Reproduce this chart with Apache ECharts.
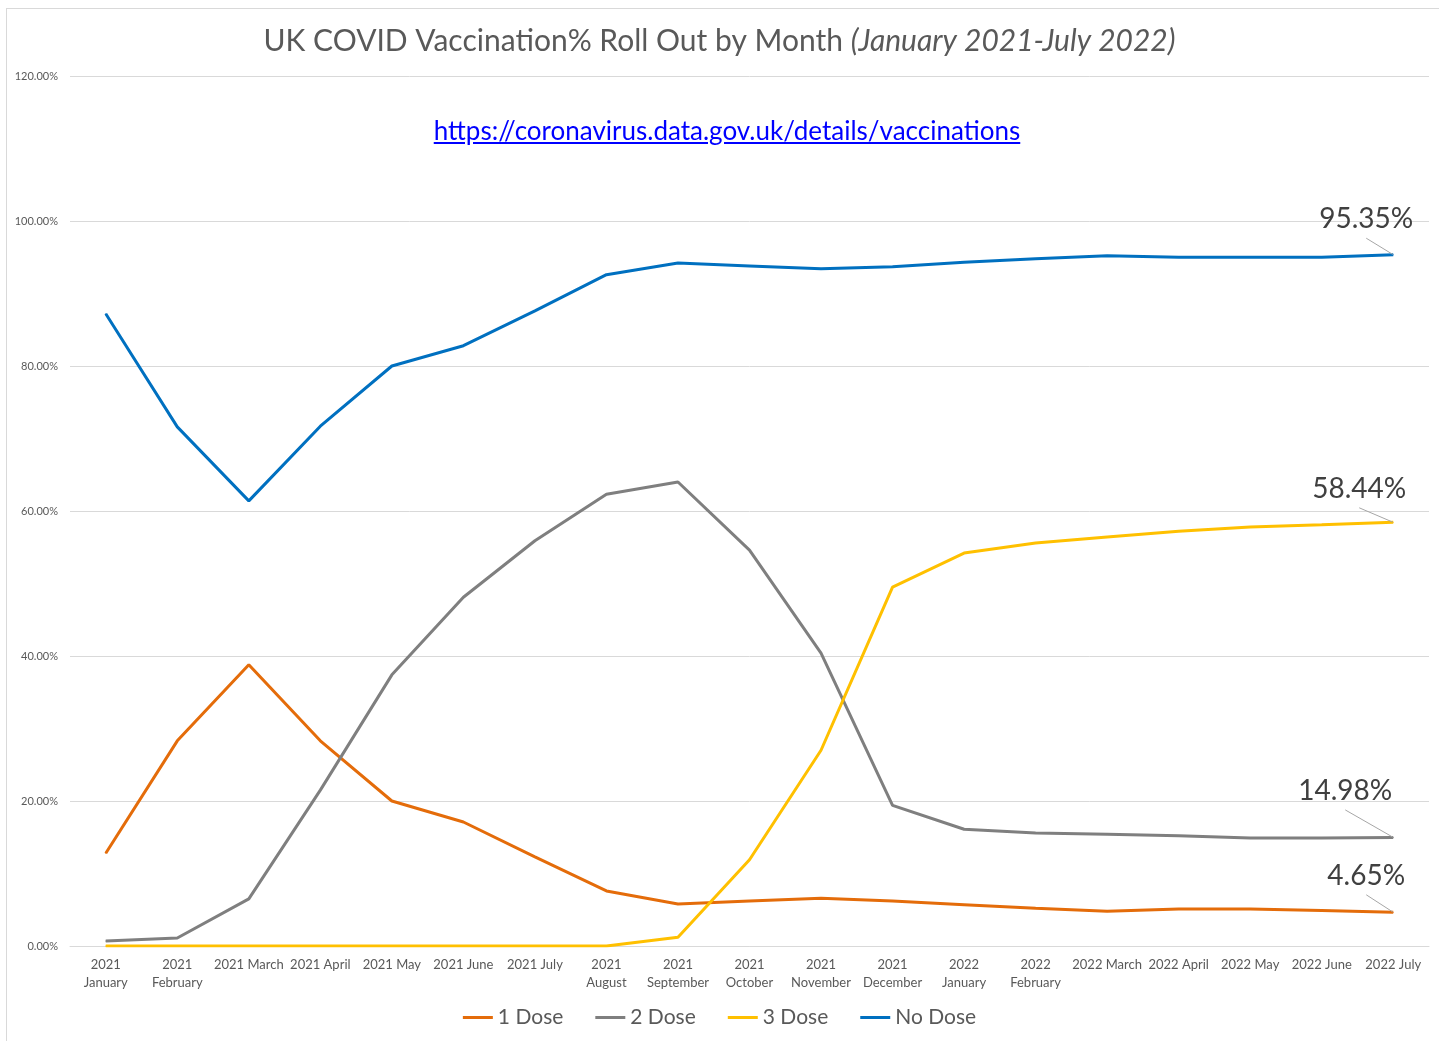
<!DOCTYPE html>
<html>
<head>
<meta charset="utf-8">
<script src="https://cdn.jsdelivr.net/npm/echarts@6/dist/echarts.min.js"></script>
<style>
  html, body { margin: 0; padding: 0; background: #fff; }
  #frame {
    position: absolute; left: 6px; top: 8px; width: 1500px; height: 1100px;
    border-left: 1px solid #d9d9d9; border-top: 1px solid #d9d9d9;
  }
  #chart { position: absolute; left: 0; top: 0; width: 1439px; height: 1041px; }
  #link {
    position: absolute; left: 0; width: 1454px; top: 114px; text-align: center;
    font-family: Lato, sans-serif; font-size: 26px; color: #0000ff; text-decoration: underline;
  }
</style>
</head>
<body>
<div id="frame"></div>
<div id="chart"></div>
<div id="link">https://coronavirus.data.gov.uk/details/vaccinations</div>
<script>
// months on the x axis
var months = ['2021 January', '2021 February', '2021 March', '2021 April', '2021 May', '2021 June',
  '2021 July', '2021 August', '2021 September', '2021 October', '2021 November', '2021 December',
  '2022 January', '2022 February', '2022 March', '2022 April', '2022 May', '2022 June', '2022 July'];

// percentages
var oneDose = [12.8, 28.3, 38.8, 28.3, 20.0, 17.1, 12.3, 7.6, 5.8, 6.2, 6.6, 6.2, 5.7, 5.2, 4.8, 5.1, 5.1, 4.9, 4.65];
var twoDose = [0.7, 1.1, 6.5, 21.5, 37.4, 48.1, 55.9, 62.3, 64.0, 54.6, 40.4, 19.4, 16.1, 15.6, 15.4, 15.2, 14.9, 14.9, 14.98];
var threeDose = [0, 0, 0, 0, 0, 0, 0, 0, 1.2, 11.9, 27.0, 49.5, 54.2, 55.6, 56.4, 57.2, 57.8, 58.1, 58.44];
var noDose = [87.2, 71.6, 61.4, 71.7, 80.0, 82.8, 87.6, 92.6, 94.2, 93.8, 93.4, 93.7, 94.3, 94.8, 95.2, 95.0, 95.0, 95.0, 95.35];

var yTicks = [0, 20, 40, 60, 80, 100, 120];

var font = 'Lato, sans-serif';

// put a label on the last point only
function withEndLabel(arr) {
  return arr.map(function (v, i) {
    if (i !== arr.length - 1) return v;
    return {
      value: v,
      label: {
        show: true, position: 'top', distance: 0,
        // invisible box with wide sides so the leader line leaves from the bottom edge
        backgroundColor: 'rgba(255,255,255,0)',
        padding: [0, 60, 5, 60],
        formatter: v.toFixed(2) + '%',
        fontFamily: font, fontSize: 28, color: '#404040'
      }
    };
  });
}

function line(name, data, color, dx, dy) {
  var last = data.length - 1;
  return {
    name: name, type: 'line', data: withEndLabel(data), symbol: 'circle', symbolSize: 1, showSymbol: true, smooth: false,
    lineStyle: { color: color, width: 3 }, itemStyle: { color: color },
    labelLine: { show: true, lineStyle: { color: '#a6a6a6', width: 1 } },
    // pull the end label up and left, leaving a leader line
    labelLayout: function (p) {
      if (p.dataIndex === last) return { dx: dx, dy: dy };
      return {};
    }
  };
}

var chart = echarts.init(document.getElementById('chart'));
chart.setOption({
  animation: false,
  backgroundColor: 'transparent',
  title: {
    left: 'center', top: 21,
    text: '{n|UK COVID Vaccination% Roll Out by Month }{i|(January 2021-July 2022)}',
    textStyle: {
      rich: {
        n: { fontFamily: font, fontSize: 30, color: '#595959', fontWeight: 'normal' },
        i: { fontFamily: font, fontSize: 30, color: '#595959', fontStyle: 'italic', fontWeight: 'normal' }
      }
    }
  },
  grid: { left: 70, right: 10, top: 76, bottom: 95 },
  legend: {
    bottom: 8, left: 'center', icon: 'rect', itemWidth: 30, itemHeight: 3, itemGap: 32,
    textStyle: { fontFamily: font, fontSize: 21, color: '#595959' },
    data: ['1 Dose', '2 Dose', '3 Dose', 'No Dose']
  },
  xAxis: {
    type: 'category', data: months, boundaryGap: true,
    axisLine: { lineStyle: { color: '#d9d9d9' } },
    axisTick: { show: false },
    axisLabel: {
      interval: 0, margin: 10, fontFamily: font, fontSize: 13, color: '#595959', lineHeight: 18,
      formatter: function (s) { return s.length > 10 ? s.replace(' ', '\n') : s; }
    }
  },
  yAxis: {
    type: 'value', min: yTicks[0], max: yTicks[yTicks.length - 1], interval: 20,
    axisLine: { show: false }, axisTick: { show: false },
    splitLine: { lineStyle: { color: '#d9d9d9', width: 1 } },
    axisLabel: {
      margin: 12, fontFamily: font, fontSize: 11, color: '#595959',
      formatter: function (v) { return v.toFixed(2) + '%'; }
    }
  },
  series: [
    line('1 Dose', oneDose, '#e46c0a', -27, -17),
    line('2 Dose', twoDose, '#7f7f7f', -48, -27),
    line('3 Dose', threeDose, '#ffc000', -34, -14),
    line('No Dose', noDose, '#0070c0', -27, -16)
  ]
});
</script>
</body>
</html>
